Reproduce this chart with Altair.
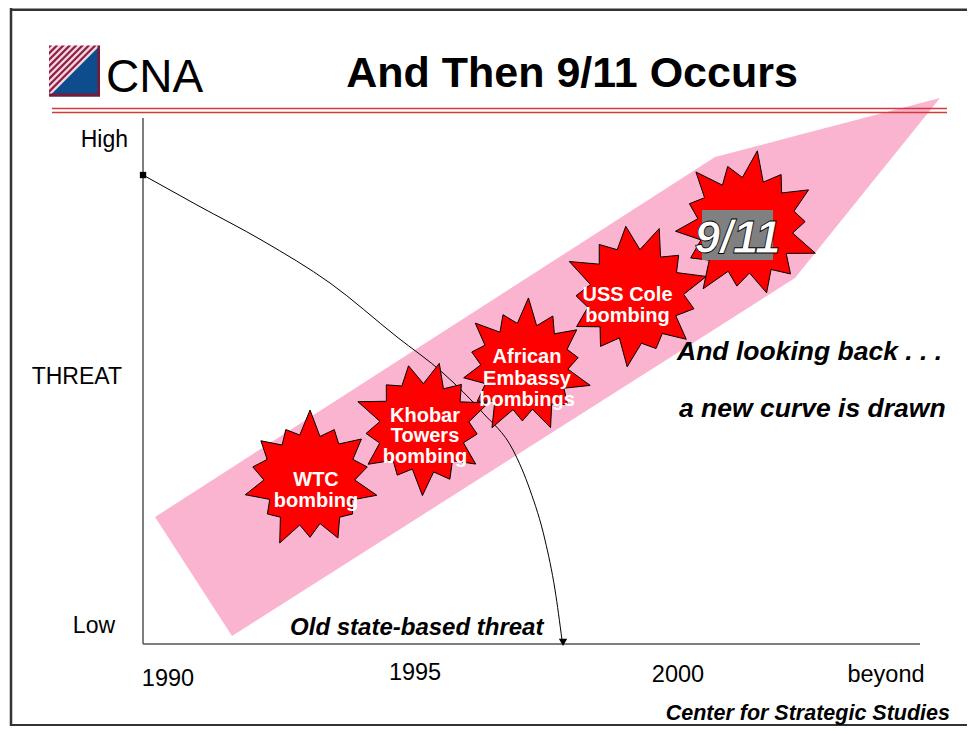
import math
import altair as alt
import pandas as pd

# ---------------- data (x = year, y = threat level: 0 = Low, 100 = High) ----------------
X_DOMAIN = [1987.481, 2005.373]
Y_DOMAIN = [-15.589, 120.913]

# pink band of the "new curve"
BAND_YEAR = [1990.224, 1991.660, 2000.672, 2002.164, 2004.869]
BAND_UPPER = [24.14, 33.56, 92.59, 96.58, 103.80]
BAND_LOWER = [24.14, 1.52, 59.89, 69.58, 103.80]

# old state-based threat curve
OLD_YEAR = [1990.0, 1991.007, 1992.239, 1993.489, 1994.739, 1995.597, 1996.343,
            1996.903, 1997.220, 1997.500, 1997.687, 1997.817]
OLD_THREAT = [89.16, 83.46, 76.62, 68.63, 58.37, 51.52, 43.92, 36.88, 29.28,
              19.77, 10.27, 0.76]
ARROW_YEAR = [1997.836]
ARROW_THREAT = [0.3]

# events (drawn latest first so earlier ones sit on top)
EVENTS = ["9/11", "USS Cole", "African Embassy", "Khobar Towers", "WTC"]
EVENT_YEAR = [2001.250, 1999.179, 1997.127, 1995.224, 1993.116]
EVENT_THREAT = [79.47, 66.35, 52.66, 41.25, 31.18]

LABEL_TEXT = ["WTC", "bombing", "Khobar", "Towers", "bombing",
              "African", "Embassy", "bombings", "USS Cole", "bombing"]
LABEL_YEAR = [1993.228] * 2 + [1995.261] * 3 + [1997.164] * 3 + [1999.039] * 2
LABEL_THREAT = [29.95, 25.96, 42.30, 38.31, 34.32, 53.33, 49.33, 45.34, 65.21, 61.22]

NINE_TEXT = ["9/11"]
NINE_YEAR = [2001.091]
NINE_THREAT = [74.4]
NINE_BOX_YEAR = [2000.429]
NINE_BOX_YEAR2 = [2001.754]
NINE_BOX_THREAT = [73.00]
NINE_BOX_THREAT2 = [82.51]

# axes
YAXIS_YEAR = [1990.0]
XAXIS_END = [2004.496]
YLAB_TEXT = ["High", "THREAT", "Low"]
YLAB_YEAR = [1989.720, 1989.608, 1989.478]
YLAB_THREAT = [94.58, 49.43, 2.09]
XLAB_TEXT = ["1990", "1995", "2000", "beyond"]
XLAB_YEAR = [1990.466, 1995.075, 1999.981, 2003.862]
XLAB_THREAT = [-7.98, -6.84, -7.22, -7.22]

# notes
NOTE_TEXT = ["And looking back . . .", "a new curve is drawn"]
NOTE_YEAR = [1999.963, 2000.0]
NOTE_THREAT = [53.99, 43.21]
OLD_NOTE = ["Old state-based threat"]
OLD_NOTE_YEAR = [1992.743]
OLD_NOTE_THREAT = [1.71]
FOOT_TEXT = ["Center for Strategic Studies"]
FOOT_YEAR = [2005.056]
FOOT_THREAT = [-14.5]

# header
TITLE_TEXT = ["And Then 9/11 Occurs"]
TITLE_YEAR = [1998.004]
TITLE_THREAT = [105.89]
CNA_TEXT = ["CNA"]
CNA_YEAR = [1989.310]
CNA_THREAT = [104.94]
LOGO_YEAR = [1988.722]
LOGO_THREAT = [108.94]
RULE_YEAR = [1988.302]
RULE_YEAR2 = [2005.0]
RULE_THREAT = [101.81, 101.05]

FRAME_LEFT = [1987.537]

# ---------------- styles ----------------
PINK = "#fab4cf"
RED = "#ff0000"
SANS = "Liberation Sans, Arial, sans-serif"


def xs(field="x"):
    return alt.X(f"{field}:Q", scale=alt.Scale(domain=X_DOMAIN, nice=False, zero=False), axis=None)


def ys(field="y"):
    return alt.Y(f"{field}:Q", scale=alt.Scale(domain=Y_DOMAIN, nice=False, zero=False), axis=None)


def star_path(radii, inner, scale, rot):
    n = len(radii)
    pts = []
    for i, r in enumerate(radii):
        a = 2 * math.pi * i / n + rot
        pts.append((scale * r * math.sin(a), -scale * r * math.cos(a)))
        a2 = 2 * math.pi * (i + 0.5) / n + rot
        ri = inner * (0.94 + 0.06 * ((i * 7) % 3) / 2)
        pts.append((scale * ri * math.sin(a2), -scale * ri * math.cos(a2)))
    return "M" + "L".join(f"{x:.3f},{y:.3f}" for x, y in pts) + "Z"


STAR_SHAPES = [
    star_path([1.0, 0.82, 0.95, 0.78, 0.98, 0.86, 0.92, 0.80, 1.0, 0.84, 0.93, 0.80, 0.97, 0.82], 0.66, 1.00, 0.15),
    star_path([0.96, 0.80, 1.0, 0.82, 0.92, 0.78, 0.98, 0.84, 0.90, 0.80, 1.0, 0.84, 0.94], 0.66, 0.97, 0.35),
    star_path([1.0, 0.84, 0.92, 0.78, 0.98, 0.82, 0.95, 0.78, 1.0, 0.85, 0.90, 0.80, 0.96, 0.82], 0.66, 0.91, 0.05),
    star_path([0.94, 0.82, 1.0, 0.78, 0.92, 0.84, 0.98, 0.78, 0.95, 0.82, 1.0, 0.80, 0.90], 0.66, 0.92, 0.25),
    star_path([1.0, 0.80, 0.94, 0.84, 0.98, 0.78, 0.92, 0.82, 1.0, 0.78, 0.95, 0.84, 0.90, 0.80], 0.68, 0.92, 0.0),
]
STAR_SIZE = 152 ** 2

stripes = []
c = -2.0
while c < 0:
    c1, c2 = c, min(c + 0.12, 0)
    stripes.append(f"M-1,{c1 + 1:.3f}L{c1 + 1:.3f},-1L{c2 + 1:.3f},-1L-1,{c2 + 1:.3f}Z")
    c += 0.25
STRIPE_PATH = "".join(stripes)
LOGO_SIZE = 51 ** 2

# ---------------- layers ----------------
layers = []

# frame
frame = pd.DataFrame({"x": FRAME_LEFT, "y": [Y_DOMAIN[0]], "y2": [Y_DOMAIN[1]]})
layers.append(alt.Chart(frame).mark_rule(color="#333333", strokeWidth=2.5).encode(
    x=xs(), y=ys(), y2="y2:Q"))
hframe = pd.DataFrame({"x": [FRAME_LEFT[0]] * 2, "x2": [X_DOMAIN[1]] * 2, "y": [120.6, -15.45]})
layers.append(alt.Chart(hframe).mark_rule(color="#333333", strokeWidth=2.5).encode(
    x=xs(), x2="x2:Q", y=ys()))

# band
band = pd.DataFrame({"x": BAND_YEAR, "y": BAND_UPPER, "y2": BAND_LOWER})
layers.append(alt.Chart(band).mark_area(color=PINK, opacity=1).encode(x=xs(), y=ys(), y2="y2:Q"))

# header rules (double red line)
hr = pd.DataFrame({"x": RULE_YEAR * 2, "x2": RULE_YEAR2 * 2, "y": RULE_THREAT})
layers.append(alt.Chart(hr).mark_rule(color="#d33a3a", strokeWidth=1.6).encode(
    x=xs(), x2="x2:Q", y=ys()))

# axes lines
yax = pd.DataFrame({"x": YAXIS_YEAR, "y": [0.0], "y2": [100.0]})
layers.append(alt.Chart(yax).mark_rule(color="#555555", strokeWidth=1.5).encode(
    x=xs(), y=ys(), y2="y2:Q"))
xax = pd.DataFrame({"x": YAXIS_YEAR, "x2": XAXIS_END, "y": [0.0]})
layers.append(alt.Chart(xax).mark_rule(color="#555555", strokeWidth=1.5).encode(
    x=xs(), x2="x2:Q", y=ys()))

# old curve
old = pd.DataFrame({"x": OLD_YEAR, "y": OLD_THREAT})
layers.append(alt.Chart(old).mark_line(color="black", strokeWidth=1, interpolate="monotone").encode(
    x=xs(), y=ys()))
start = pd.DataFrame({"x": OLD_YEAR[:1], "y": OLD_THREAT[:1]})
layers.append(alt.Chart(start).mark_point(shape="square", filled=True, color="black", size=40, opacity=1).encode(
    x=xs(), y=ys()))
arrow = pd.DataFrame({"x": ARROW_YEAR, "y": ARROW_THREAT})
layers.append(alt.Chart(arrow).mark_point(shape="triangle-down", filled=True, color="black", size=70, opacity=1).encode(
    x=xs(), y=ys()))

# stars
stars = pd.DataFrame({"event": EVENTS, "x": EVENT_YEAR, "y": EVENT_THREAT})
layers.append(alt.Chart(stars).mark_point(filled=True, fill=RED, stroke="black", strokeWidth=1,
                                          opacity=1, size=STAR_SIZE).encode(
    x=xs(), y=ys(),
    shape=alt.Shape("event:N", scale=alt.Scale(domain=EVENTS, range=STAR_SHAPES), legend=None)))

# 9/11 box and label
nbox = pd.DataFrame({"x": NINE_BOX_YEAR, "x2": NINE_BOX_YEAR2, "y": NINE_BOX_THREAT, "y2": NINE_BOX_THREAT2})
layers.append(alt.Chart(nbox).mark_rect(color="#808080", opacity=1).encode(
    x=xs(), x2="x2:Q", y=ys(), y2="y2:Q"))
nine = pd.DataFrame({"t": NINE_TEXT, "x": NINE_YEAR, "y": NINE_THREAT})
layers.append(alt.Chart(nine).mark_text(font=SANS, fontSize=46, fontWeight="bold", fontStyle="italic",
                                        fill="white", stroke="black", strokeWidth=0.8,
                                        align="center", baseline="alphabetic").encode(
    x=xs(), y=ys(), text="t:N"))

# star labels
lab = pd.DataFrame({"t": LABEL_TEXT, "x": LABEL_YEAR, "y": LABEL_THREAT})
layers.append(alt.Chart(lab).mark_text(font=SANS, fontSize=20, fontWeight="bold", color="white",
                                       align="center", baseline="alphabetic").encode(
    x=xs(), y=ys(), text="t:N"))

# axis labels
yl = pd.DataFrame({"t": YLAB_TEXT, "x": YLAB_YEAR, "y": YLAB_THREAT})
layers.append(alt.Chart(yl).mark_text(font=SANS, fontSize=23, color="black",
                                      align="right", baseline="alphabetic").encode(
    x=xs(), y=ys(), text="t:N"))
xl = pd.DataFrame({"t": XLAB_TEXT, "x": XLAB_YEAR, "y": XLAB_THREAT})
layers.append(alt.Chart(xl).mark_text(font=SANS, fontSize=23.5, color="black",
                                      align="center", baseline="alphabetic").encode(
    x=xs(), y=ys(), text="t:N"))

# notes
notes = pd.DataFrame({"t": NOTE_TEXT, "x": NOTE_YEAR, "y": NOTE_THREAT})
layers.append(alt.Chart(notes).mark_text(font=SANS, fontSize=26.5, fontWeight="bold", fontStyle="italic",
                                         color="black", align="left", baseline="alphabetic").encode(
    x=xs(), y=ys(), text="t:N"))
onote = pd.DataFrame({"t": OLD_NOTE, "x": OLD_NOTE_YEAR, "y": OLD_NOTE_THREAT})
layers.append(alt.Chart(onote).mark_text(font=SANS, fontSize=24, fontWeight="bold", fontStyle="italic",
                                         color="black", align="left", baseline="alphabetic").encode(
    x=xs(), y=ys(), text="t:N"))
foot = pd.DataFrame({"t": FOOT_TEXT, "x": FOOT_YEAR, "y": FOOT_THREAT})
layers.append(alt.Chart(foot).mark_text(font=SANS, fontSize=21.5, fontWeight="bold", fontStyle="italic",
                                        color="black", align="right", baseline="alphabetic").encode(
    x=xs(), y=ys(), text="t:N"))

# header: logo, CNA, title
logo = pd.DataFrame({"x": LOGO_YEAR, "y": LOGO_THREAT})
for path, col in [("M-1,-1L1,-1L-1,1Z", "#f4d6df"),
                  (STRIPE_PATH, "#8e1f45"),
                  ("M1,-1L1,1L-1,1Z", "#0d4d8d"),
                  ("M-1,0.88L0.9,0.88L0.9,-1L1,-1L1,1L-1,1Z", "#7a1a3a")]:
    layers.append(alt.Chart(logo).mark_point(shape=path, filled=True, color=col, opacity=1,
                                             size=LOGO_SIZE, strokeWidth=0).encode(x=xs(), y=ys()))
cna = pd.DataFrame({"t": CNA_TEXT, "x": CNA_YEAR, "y": CNA_THREAT})
layers.append(alt.Chart(cna).mark_text(font=SANS, fontSize=46, color="black",
                                       align="left", baseline="alphabetic").encode(
    x=xs(), y=ys(), text="t:N"))
title = pd.DataFrame({"t": TITLE_TEXT, "x": TITLE_YEAR, "y": TITLE_THREAT})
layers.append(alt.Chart(title).mark_text(font=SANS, fontSize=43, fontWeight="bold", color="black",
                                         align="center", baseline="alphabetic").encode(
    x=xs(), y=ys(), text="t:N"))

chart = alt.layer(*layers).properties(
    width=959, height=718, padding=0, background="white",
    autosize=alt.AutoSizeParams(type="none"),
).configure_view(stroke=None)

chart.save("out.html", embed_options={"renderer": "svg", "actions": False})
